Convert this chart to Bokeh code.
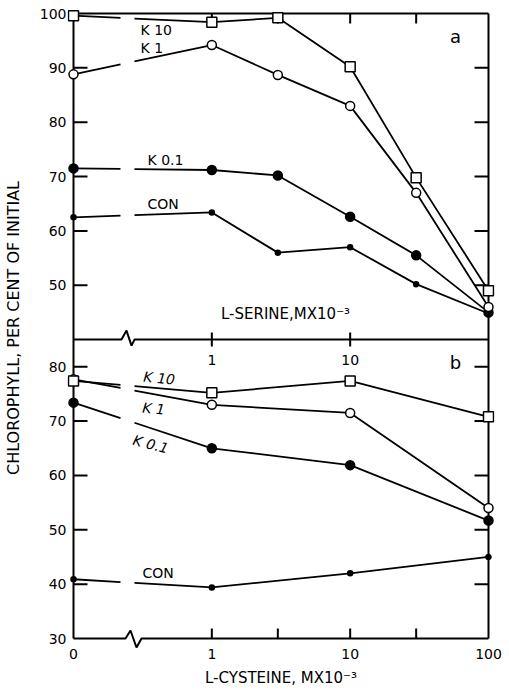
import math
from bokeh.plotting import figure
from bokeh.models import Range1d, FixedTicker, Label
from bokeh.embed import file_html
from bokeh.resources import INLINE

# ---------------- data ----------------
serine_conc = [0, 1, 3, 10, 30, 100]          # L-serine, M x 10^-3
serine_k10 = [99.6, 98.4, 99.2, 90.2, 69.8, 49.0]
serine_k1 = [88.8, 94.2, 88.7, 83.0, 67.0, 46.0]
serine_k01 = [71.5, 71.2, 70.2, 62.6, 55.5, 45.0]
serine_con = [62.5, 63.4, 56.0, 57.0, 50.2, 44.8]

cysteine_conc = [0, 1, 10, 100]               # L-cysteine, M x 10^-3
cysteine_k10 = [77.4, 75.2, 77.4, 70.8]
cysteine_k1 = [77.7, 73.0, 71.5, 54.0]
cysteine_k01 = [73.4, 65.0, 61.9, 51.7]
cysteine_con = [40.9, 39.4, 42.0, 45.0]

x_label_ticks = [0, 1, 10, 100]
x_mark_ticks = [1, 3, 10, 30]
mid_mark_ticks = [1, 10]
y_ticks_a = [50, 60, 70, 80, 90, 100]
y_ticks_b = [30, 40, 50, 60, 70, 80]

# ---------------- layout ----------------
W, H = 509, 692
BOX_L, BOX_R, BOX_T, BOX_B = 73, 488, 13, 638
PAD_L, PAD_R, PAD_T, PAD_B = 6, 6, 6, 10
A_LO, A_HI = 40, 100
B_LO, B_HI = 30, 85
ZERO_POS = 0.1          # where "0" sits on the log axis (one decade below 1)
X_HI = 100
PPD = (BOX_R - BOX_L) / math.log10(X_HI / ZERO_POS)
PPU = (BOX_B - BOX_T) / ((A_HI - A_LO) + (B_HI - B_LO))
OFF = B_HI - A_LO       # panel a value -> lower-panel coordinate
TOP_B = A_HI + OFF

def xp(dpx):
    return ZERO_POS * 10 ** (dpx / PPD)

def xpos(c):
    return ZERO_POS if c == 0 else c

p = figure(width=W, height=H, x_axis_type="log",
           x_range=Range1d(ZERO_POS / 10 ** (PAD_L / PPD), X_HI * 10 ** (PAD_R / PPD)),
           y_range=Range1d(B_LO - PAD_B / PPU, TOP_B + PAD_T / PPU),
           min_border_left=BOX_L - PAD_L, min_border_right=W - BOX_R - PAD_R,
           min_border_top=BOX_T - PAD_T, min_border_bottom=H - BOX_B - PAD_B,
           output_backend="svg", toolbar_location=None, tools="")
p.extra_y_ranges = {"a": Range1d(B_LO - OFF - PAD_B / PPU, A_HI + PAD_T / PPU)}
p.grid.visible = False
p.outline_line_color = None

FONT = "DejaVu Sans"

# left axis (labels only)
ya = p.yaxis[0]
ya.ticker = FixedTicker(ticks=y_ticks_b + [v + OFF for v in y_ticks_a])
ya.major_label_overrides = {v + OFF: str(v) for v in y_ticks_a}
ya.axis_line_color = None
ya.major_tick_line_color = None
ya.minor_tick_line_color = None
ya.major_tick_in = 0
ya.major_tick_out = 0
ya.major_label_standoff = 1
ya.major_label_text_font = FONT
ya.major_label_text_font_size = "14px"
ya.major_label_text_color = "black"
ya.axis_label = "CHLOROPHYLL, PER CENT OF INITIAL"
ya.axis_label_text_font = FONT
ya.axis_label_text_font_size = "16px"
ya.axis_label_text_font_style = "normal"
ya.axis_label_text_color = "black"
ya.axis_label_standoff = 14

# bottom axis (labels only)
xa = p.xaxis[0]
xa.ticker = FixedTicker(ticks=[xpos(c) for c in x_label_ticks])
xa.major_label_overrides = {xpos(c): str(c) for c in x_label_ticks}
xa.axis_line_color = None
xa.major_tick_line_color = None
xa.minor_tick_line_color = None
xa.major_tick_in = 0
xa.major_tick_out = 0
xa.major_label_standoff = 0
xa.major_label_text_font = FONT
xa.major_label_text_font_size = "14px"
xa.major_label_text_color = "black"
xa.axis_label = "L-CYSTEINE, MX10\u207b\u00b3"
xa.axis_label_text_font = FONT
xa.axis_label_text_font_size = "15px"
xa.axis_label_text_font_style = "normal"
xa.axis_label_text_color = "black"
xa.axis_label_standoff = 7

# tick marks (inward) as thin filled bars
HW = 1.0   # half thickness in px
qs = dict(left=[], right=[], bottom=[], top=[])
def add_q(l, r, b, t):
    qs["left"].append(l); qs["right"].append(r); qs["bottom"].append(b); qs["top"].append(t)

yt = y_ticks_b[1:] + [v + OFF for v in y_ticks_a[:-1]]
for y in yt:
    add_q(ZERO_POS, ZERO_POS * 10 ** (14 / PPD), y - HW / PPU, y + HW / PPU)
    add_q(X_HI / 10 ** (14 / PPD), X_HI, y - HW / PPU, y + HW / PPU)
for x in x_mark_ticks:
    xl, xr = x / 10 ** (HW / PPD), x * 10 ** (HW / PPD)
    add_q(xl, xr, B_LO, B_LO + 10 / PPU)
    add_q(xl, xr, TOP_B - 10 / PPU, TOP_B)
for x in mid_mark_ticks:
    xl, xr = x / 10 ** (HW / PPD), x * 10 ** (HW / PPD)
    add_q(xl, xr, B_HI - 7 / PPU, B_HI + 7 / PPU)
p.quad(left=qs["left"], right=qs["right"], bottom=qs["bottom"], top=qs["top"],
       fill_color="black", line_color=None)

LW = 2
# box frame
p.line([ZERO_POS, ZERO_POS], [B_LO, TOP_B], line_color="black", line_width=LW)
p.line([X_HI, X_HI], [B_LO, TOP_B], line_color="black", line_width=LW)
p.line([ZERO_POS, X_HI], [TOP_B, TOP_B], line_color="black", line_width=LW)
# bottom axis line with break
p.line([ZERO_POS, xp(52), xp(57), xp(63), xp(68), X_HI],
       [B_LO, B_LO, B_LO + 8 / PPU, B_LO - 9 / PPU, B_LO, B_LO],
       line_color="black", line_width=LW)
# middle (shared) axis line with break
p.line([ZERO_POS, xp(48), xp(53), xp(58), xp(61), X_HI],
       [B_HI, B_HI, B_HI + 9 / PPU, B_HI - 6 / PPU, B_HI, B_HI],
       line_color="black", line_width=LW)

# series with a gap in the first segment (axis break)
G1 = math.log10(ZERO_POS) + 47 / PPD
G2 = math.log10(ZERO_POS) + 61 / PPD

def series(conc, vals, rng):
    xs = [xpos(c) for c in conc]
    u0, u1 = math.log10(xs[0]), math.log10(xs[1])
    f = lambda u: vals[0] + (vals[1] - vals[0]) * (u - u0) / (u1 - u0)
    kw = dict(line_color="black", line_width=1.8)
    if rng != "default":
        kw["y_range_name"] = rng
    p.line([xs[0], 10 ** G1], [vals[0], f(G1)], **kw)
    p.line([10 ** G2] + xs[1:], [f(G2)] + vals[1:], **kw)
    return xs

marks = []
for conc, vals, rng, mk, sz, fill in [
    (serine_conc, serine_con, "a", "circle", 5, "black"),
    (serine_conc, serine_k01, "a", "circle", 9, "black"),
    (serine_conc, serine_k1, "a", "circle", 9, "white"),
    (serine_conc, serine_k10, "a", "square", 10, "white"),
    (cysteine_conc, cysteine_con, "default", "circle", 5, "black"),
    (cysteine_conc, cysteine_k01, "default", "circle", 9, "black"),
    (cysteine_conc, cysteine_k1, "default", "circle", 9, "white"),
    (cysteine_conc, cysteine_k10, "default", "square", 10, "white"),
]:
    xs = series(conc, vals, rng)
    marks.append((xs, vals, rng, mk, sz, fill))

for xs, vals, rng, mk, sz, fill in marks:
    kw = dict(marker=mk, size=sz, fill_color=fill, line_color="black", line_width=1.5)
    if rng != "default":
        kw["y_range_name"] = rng
    p.scatter(xs, vals, **kw)

def lab(x, y, text, rng="default", size="14px", style="normal", angle=0.0,
        align="left", baseline="middle"):
    kw = dict(x=x, y=y, text=text, text_font=FONT, text_font_size=size,
              text_font_style=style, text_color="black", angle=angle,
              text_align=align, text_baseline=baseline)
    if rng != "default":
        kw["y_range_name"] = rng
    p.add_layout(Label(**kw))

# panel a labels
lab(0.305, 96.9, "K 10", "a")
lab(0.305, 93.6, "K 1", "a")
lab(0.343, 73.1, "K 0.1", "a")
lab(0.343, 65.0, "CON", "a")
lab(57.8, 95.8, "a", "a", size="18px", align="center")
lab(3.41, 44.8, "L-SERINE,MX10\u207b\u00b3", "a", size="15px", align="center")
# panel b labels
lab(0.321, 78.2, "K 10", style="italic", angle=-0.10)
lab(0.315, 72.5, "K 1", style="italic", angle=-0.10)
lab(0.271, 66.6, "K 0.1", style="italic", angle=-0.26)
lab(0.315, 42.0, "CON")
lab(57.8, 80.8, "b", size="18px", align="center")
lab(1, 81.2, "1", size="14px", align="center")
lab(10, 81.2, "10", size="14px", align="center")

open("out.html", "w").write(file_html(p, INLINE))
